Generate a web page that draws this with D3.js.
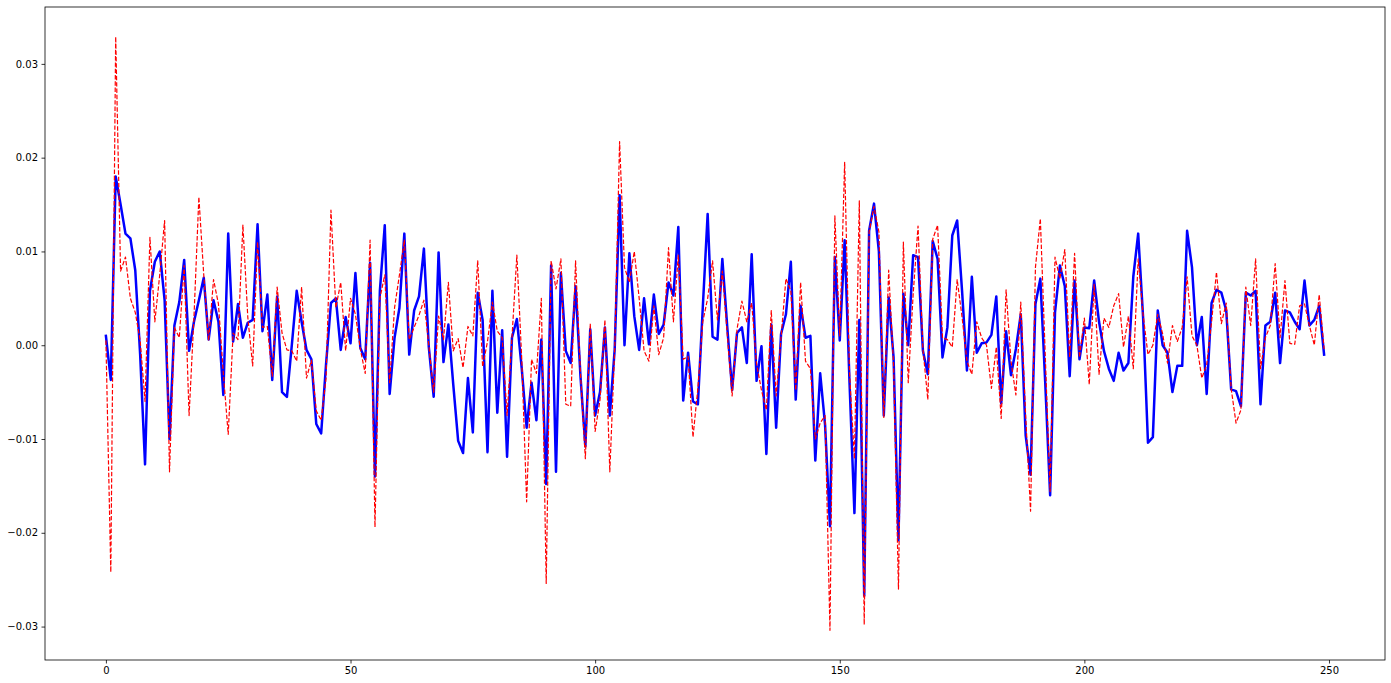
<!DOCTYPE html>
<html>
<head>
<meta charset="utf-8">
<script src="https://cdn.jsdelivr.net/npm/d3@7"></script>
<style>
  html, body { margin: 0; padding: 0; background: #ffffff; }
  svg { display: block; }
  .tick text { font-family: "DejaVu Sans", sans-serif; font-size: 10px; fill: #000; }
</style>
</head>
<body>
<svg id="chart" width="1391" height="683"></svg>
<script>
// Blue solid series (thick line)
const seriesBlue = [
  0.001, -0.0037, 0.018, 0.015, 0.0119, 0.0114, 0.008, -0.001, -0.0127, 0.0058,
  0.0089, 0.0100, 0.0048, -0.0100, 0.0021, 0.0046, 0.0091, -0.0006, 0.0025, 0.0048,
  0.0072, 0.0006, 0.0048, 0.0025, -0.0053, 0.0119, 0.0004, 0.0044, 0.0008, 0.0024,
  0.0027, 0.0129, 0.0015, 0.0054, -0.0037, 0.0052, -0.005, -0.0055, 0.0000, 0.0058,
  0.0025, -0.0005, -0.0015, -0.0084, -0.0094, -0.002, 0.0045, 0.005, -0.0005, 0.003,
  0.0002, 0.0077, -0.0003, -0.0015, 0.0088, -0.014, 0.0058, 0.0128, -0.0052, 0.0008,
  0.004, 0.0119, -0.001, 0.0037, 0.0052, 0.0103, -0.0002, -0.0055, 0.0099, -0.0018,
  0.0022, -0.0042, -0.0102, -0.0115, -0.0035, -0.0093, 0.0056, 0.0027, -0.0114, 0.0058,
  -0.0072, 0.0016, -0.0119, 0.0008, 0.0028, -0.0025, -0.0088, -0.004, -0.008, 0.0006,
  -0.0148, 0.0085, -0.0135, 0.0077, -0.0006, -0.0019, 0.0063, -0.0033, -0.0108, 0.0017,
  -0.0075, -0.005, 0.0019, -0.0075, -0.0004, 0.016, 0.0, 0.0098, 0.0031, -0.0005,
  0.005, 0.0001, 0.0054, 0.0012, 0.0022, 0.0067, 0.0053, 0.0126, -0.0059, -0.0008,
  -0.006, -0.0063, 0.004, 0.014, 0.0009, 0.0006, 0.0092, 0.002, -0.0048, 0.0013,
  0.0019, -0.0019, 0.0097, -0.0038, -0.0001, -0.0116, 0.0022, -0.0088, 0.0012, 0.0033,
  0.0089, -0.0058, 0.0042, 0.0008, 0.001, -0.0123, -0.003, -0.0085, -0.0193, 0.0094,
  0.0005, 0.0112, -0.004, -0.0179, 0.0027, -0.0267, 0.0122, 0.0151, 0.01, -0.0075,
  0.0051, -0.0013, -0.0208, 0.0055, 0.0, 0.0096, 0.0094, -0.0006, -0.0031, 0.0111,
  0.0092, -0.0013, 0.0019, 0.0117, 0.0133, 0.0058, -0.0027, 0.0073, -0.0008, 0.0002,
  0.0003, 0.0011, 0.0052, -0.0062, 0.0015, -0.0032, -0.0004, 0.0033, -0.0096, -0.0138,
  0.0044, 0.0071, -0.004, -0.016, 0.0035, 0.0085, 0.0063, -0.0033, 0.0069, -0.0015,
  0.0019, 0.0018, 0.0069, 0.0025, -0.0006, -0.0025, -0.0038, -0.0008, -0.0027, -0.0019,
  0.0073, 0.0119, 0.003, -0.0104, -0.0098, 0.0037, 0.0, -0.0008, -0.005, -0.0022,
  -0.0022, 0.0122, 0.0083, 0.0, 0.003, -0.0052, 0.0045, 0.0059, 0.0056, 0.0037,
  -0.0047, -0.0049, -0.0065, 0.0056, 0.0053, 0.0058, -0.0063, 0.0021, 0.0025, 0.0056,
  -0.0019, 0.0037, 0.0035, 0.0025, 0.0017, 0.0069, 0.0021, 0.0027, 0.0042, -0.001
];

// Red dashed series
const seriesRed = [
  0.0005, -0.0242, 0.0329, 0.0079, 0.0094, 0.005, 0.0035, 0.0005, -0.006, 0.0115,
  0.0025, 0.0075, 0.0133, -0.0135, 0.0019, 0.0008, 0.0085, -0.0075, 0.003, 0.0158,
  0.0075, 0.0005, 0.007, 0.0044, -0.003, -0.0095, 0.0013, 0.0006, 0.0128, 0.003,
  -0.0022, 0.011, 0.0019, 0.002, -0.0033, 0.0062, 0.0013, -0.0005, -0.0006, -0.0017,
  0.0062, -0.0035, -0.0016, -0.007, -0.008, -0.0035, 0.0144, 0.004, 0.0067, -0.0006,
  0.005, 0.0033, -0.0004, -0.003, 0.0112, -0.0194, 0.005, 0.0075, -0.004, 0.004,
  0.0075, 0.0112, 0.0006, 0.0019, 0.0032, 0.0048, 0.0, -0.005, 0.0031, 0.0006,
  0.0067, -0.0006, 0.0007, -0.0024, 0.002, 0.001, 0.009, -0.0023, 0.0004, 0.0046,
  0.0015, 0.0008, -0.0075, 0.0008, 0.0096, -0.0015, -0.0167, -0.0015, -0.003, 0.005,
  -0.0254, 0.009, 0.006, 0.0092, -0.0063, -0.0065, 0.009, -0.003, -0.0121, 0.0023,
  -0.0092, -0.0058, 0.0027, -0.0135, -0.0004, 0.0217, 0.0083, 0.0067, 0.01, 0.005,
  -0.0006, -0.0017, 0.0042, -0.001, 0.0008, 0.0104, 0.0025, 0.0096, -0.0015, -0.0012,
  -0.0098, -0.0046, 0.0025, 0.005, 0.009, 0.0027, 0.0079, 0.0012, -0.0054, 0.0017,
  0.0047, 0.0025, 0.0045, -0.002, -0.0048, -0.0069, 0.0037, -0.0054, 0.0008, 0.0071,
  0.0058, -0.0048, 0.0067, -0.0017, -0.0025, -0.01, -0.0083, -0.0075, -0.0304, 0.0138,
  0.001, 0.0195, -0.003, -0.0121, 0.0154, -0.0298, 0.0121, 0.0148, 0.0121, -0.0077,
  0.008, -0.0021, -0.026, 0.011, -0.004, 0.0054, 0.0127, -0.0004, -0.0058, 0.0113,
  0.0128, 0.0008, 0.0006, -0.0002, 0.007, 0.003, -0.0017, -0.0031, 0.0025, 0.0008,
  0.0, -0.0046, -0.0002, -0.0078, 0.0059, -0.0017, -0.0053, 0.0046, -0.0075, -0.0177,
  0.0083, 0.0135, -0.001, -0.0156, 0.0094, 0.0071, 0.0102, -0.0013, 0.0098, -0.0013,
  0.0029, -0.0042, 0.0065, -0.0031, 0.0029, 0.0019, 0.0042, 0.0055, -0.0002, 0.0031,
  -0.0025, 0.0092, 0.0033, -0.001, 0.0, 0.0033, 0.0012, -0.0019, 0.0021, 0.0004,
  0.0019, 0.0073, 0.001, 0.0, -0.0035, -0.0021, 0.0025, 0.0078, 0.0023, 0.0045,
  -0.0046, -0.0083, -0.0069, 0.0062, 0.0021, 0.0092, -0.0025, 0.0008, 0.0021, 0.0087,
  0.0008, 0.0069, 0.0002, 0.0001, 0.0042, 0.0044, 0.0021, 0.0, 0.0054, -0.0004
];

const xTicks = [0, 50, 100, 150, 200, 250];
const yTicks = [-0.03, -0.02, -0.01, 0.00, 0.01, 0.02, 0.03];

const svg = d3.select("#chart");
const margin = { left: 45, top: 7, right: 1391 - 1385, bottom: 683 - 660 };
const W = 1391 - margin.left - margin.right;
const H = 683 - margin.top - margin.bottom;

const n = Math.max(seriesBlue.length, seriesRed.length) - 1;
const x = d3.scaleLinear().domain([-0.05 * n, 1.05 * n]).range([0, W]);

const all = seriesBlue.concat(seriesRed);
const lo = d3.min(all), hi = d3.max(all), pad = (hi - lo) * 0.05;
const y = d3.scaleLinear().domain([lo - pad, hi + pad]).range([H, 0]);

const g = svg.append("g").attr("transform", `translate(${margin.left},${margin.top})`);

const line = d3.line().x((d, i) => x(i)).y(d => y(d));

g.append("path").datum(seriesBlue)
  .attr("fill", "none").attr("stroke", "#0000ff").attr("stroke-width", 2.5)
  .attr("stroke-linejoin", "round").attr("stroke-linecap", "square")
  .attr("d", line);

g.append("path").datum(seriesRed)
  .attr("fill", "none").attr("stroke", "#ff0000").attr("stroke-width", 1.2)
  .attr("stroke-dasharray", "4.4,1.9")
  .attr("stroke-linejoin", "round")
  .attr("d", line);

const fmtY = d => d3.format(".2f")(d).replace("-", "\u2212");

const xAxis = g.append("g").attr("transform", `translate(0,${H})`)
  .call(d3.axisBottom(x).tickValues(xTicks).tickSize(3.5).tickPadding(3.5).tickFormat(d3.format("d")));
const yAxis = g.append("g")
  .call(d3.axisLeft(y).tickValues(yTicks).tickSize(3.5).tickPadding(3.5).tickFormat(fmtY));

[xAxis, yAxis].forEach(a => {
  a.select(".domain").remove();
  a.selectAll(".tick line").attr("stroke", "#000").attr("stroke-width", 0.8);
});

// frame (spines)
g.append("rect").attr("x", 0).attr("y", 0).attr("width", W).attr("height", H)
  .attr("fill", "none").attr("stroke", "#000").attr("stroke-width", 0.8);
</script>
</body>
</html>
